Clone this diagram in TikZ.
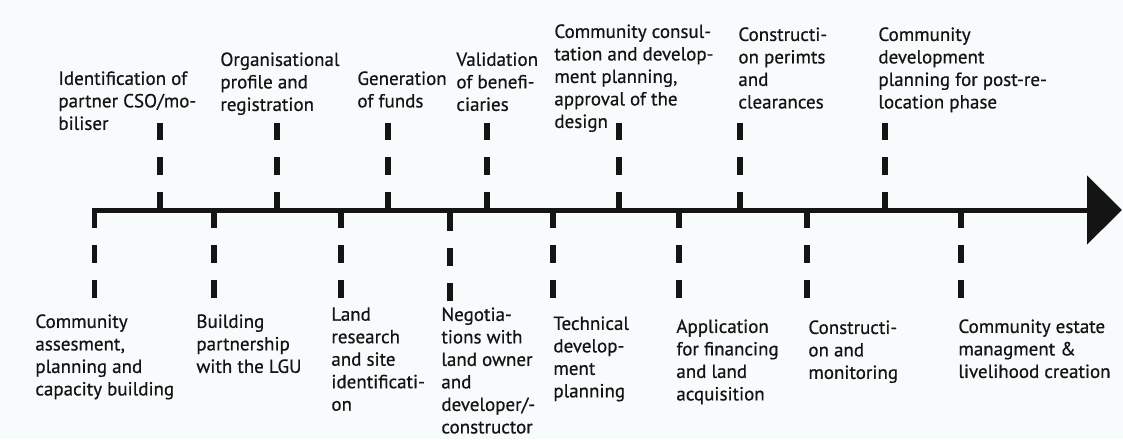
\documentclass[tikz,border=0pt]{standalone}
\usepackage{fontspec}
\usetikzlibrary{arrows.meta}
\newfontfamily\labelfont[FakeBold=0.6]{PT Sans}
\definecolor{paper}{rgb}{0.973,0.984,0.99}
\definecolor{ink}{rgb}{0.08,0.08,0.08}

\begin{document}
\begin{tikzpicture}[x=0.5pt,y=0.5pt,
    axis/.style={line width=2.5pt,ink},
    tick/.style={line width=2.6pt,ink,dash pattern=on 9pt off 8.5pt},
    label/.style={anchor=north west,align=left,inner sep=0pt,text=ink,
        font=\labelfont\fontsize{9.5}{11.25}\selectfont}]
        \fill[paper] (0,-229) rectangle (1123,210);
        \useasboundingbox (0,-229) rectangle (1123,210);

        % time axis
        \coordinate (start) at (92,0);
        \coordinate (end) at (1122,0);
        \draw[axis,-{Triangle[length=17.5pt,width=34pt]}] (start) -- (end);

        % ticks above the axis
        \foreach \x [count=\i] in {160,277,388,487,619,740,885}
        {
            \coordinate (up\i) at (\x,0);
            \coordinate (uptop\i) at (\x,87);
            \draw[tick] (up\i) -- (uptop\i);
        }
        % ticks below the axis
        \foreach \x/\y [count=\i] in {94.5/0,214/0,341/0,450/-3,553/0,679/0,807/0,961/0}
        {
            \coordinate (low\i) at (\x,\y);
            \coordinate (lowend\i) at (\x,\y-88);
            \draw[tick] (low\i) -- (lowend\i);
        }

        % steps above
        \node[label] (partner) at (58,139) {Identification of\\partner CSO/mo-\\biliser};
        \node[label] (profile) at (220,158) {Organisational\\profile and\\registration};
        \node[label] (funds) at (357,139) {Generation\\of funds};
        \node[label] (benef) at (456,158) {Validation\\of benefi-\\ciaries};
        \node[label] (consult) at (554,186) {Community consul-\\tation and develop-\\ment planning,\\approval of the\\design};
        \node[label] (permits) at (738,183) {Constructi-\\on perimts\\and\\clearances};
        \node[label] (postrel) at (878,183) {Community\\development\\planning for post-re-\\location phase};

        % steps below
        \node[label] (assess) at (35,-104) {Community\\assesment,\\planning and\\capacity building};
        \node[label] (lgu) at (196,-104) {Building\\partnership\\with the LGU};
        \node[label] (site) at (331,-97) {Land\\research\\and site\\identificati-\\on};
        \node[label] (negot) at (441,-97) {Negotia-\\tions with\\land owner\\and\\developer/-\\constructor};
        \node[label] (techn) at (553,-106) {Technical\\develop-\\ment\\planning};
        \node[label] (financ) at (676,-109) {Application\\for financing\\and land\\acquisition};
        \node[label] (monit) at (808,-110) {Constructi-\\on and\\monitoring};
        \node[label] (estate) at (958,-109) {Community estate\\managment \&\\livelihood creation};
    \end{tikzpicture}
\end{document}
